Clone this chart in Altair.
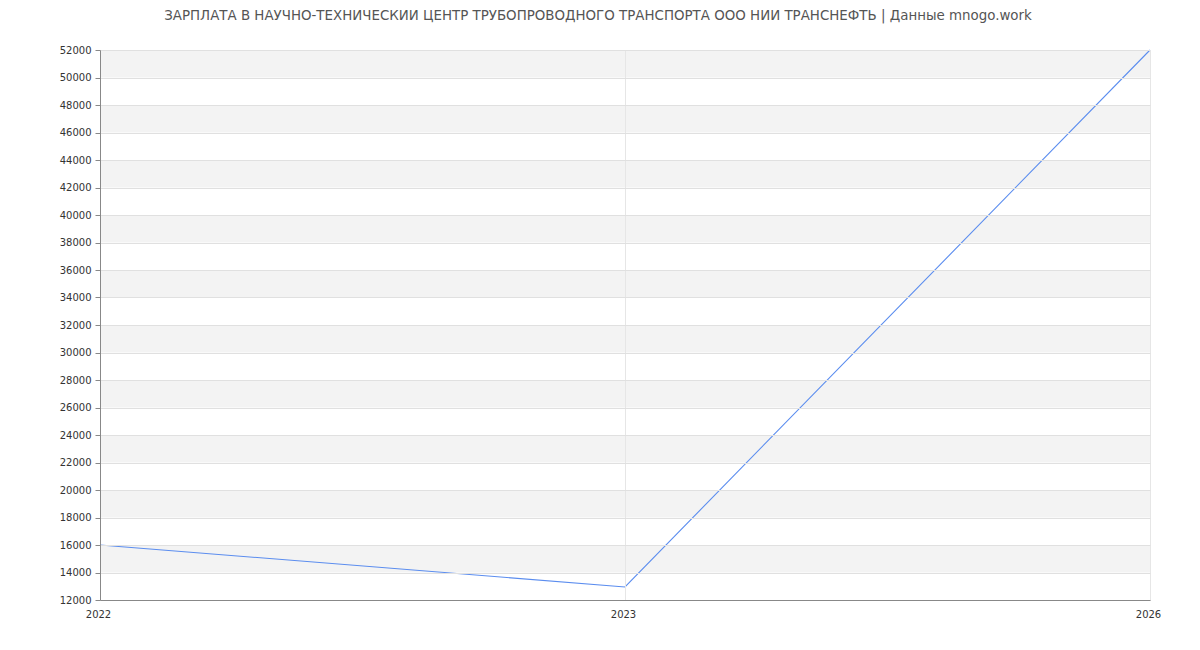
import altair as alt
import pandas as pd

years = ["2022", "2023", "2026"]
salary = [16000, 12950, 52000]
band_low = [14000, 18000, 22000, 26000, 30000, 34000, 38000, 42000, 46000, 50000]
band_high = [16000, 20000, 24000, 28000, 32000, 36000, 40000, 44000, 48000, 52000]
y_ticks = [12000, 14000, 16000, 18000, 20000, 22000, 24000, 26000, 28000, 30000, 32000,
           34000, 36000, 38000, 40000, 42000, 44000, 46000, 48000, 50000, 52000]
title_text = "ЗАРПЛАТА В НАУЧНО-ТЕХНИЧЕСКИЙ ЦЕНТР ТРУБОПРОВОДНОГО ТРАНСПОРТА ООО НИИ ТРАНСНЕФТЬ | Данные mnogo.work"

df = pd.DataFrame({"year": years, "salary": salary})
bands = pd.DataFrame({"lo": band_low, "hi": band_high})

yscale = alt.Scale(domain=[12000, 52000], nice=False, zero=False)
xscale = alt.Scale(padding=0)

yaxis = alt.Axis(title=None, values=y_ticks, grid=True, labelOverlap=False,
                 gridColor="#e0e0e0", tickColor="#888888", tickSize=5, zindex=1,
                 domainColor="#888888", labelPadding=4, labelFontSize=10,
                 labelColor="#333333", labelFont="DejaVu Sans", format="d")

band_layer = alt.Chart(bands).mark_rect(color="#f3f3f3").encode(
    x=alt.value(0), x2=alt.value(1050),
    y=alt.Y("lo:Q", scale=yscale, axis=yaxis),
    y2="hi:Q",
)

line = alt.Chart(df).mark_line(color="#5b8def", strokeWidth=1.1).encode(
    x=alt.X("year:N", scale=xscale, sort=years,
            axis=alt.Axis(title=None, labelAngle=0, grid=True, gridColor="#e6e6e6",
                          ticks=False, labelPadding=9, domainColor="#888888",
                          labelOffset=-2, zindex=1,
                          labelFontSize=10, labelColor="#333333", labelFont="DejaVu Sans")),
    y=alt.Y("salary:Q", scale=yscale, axis=yaxis),
)

chart = alt.layer(band_layer, line).properties(
    width=1050, height=550,
    title=alt.TitleParams(title_text, fontSize=13.4, fontWeight="normal", color="#555555",
                          font="DejaVu Sans", anchor="middle", dx=-27, offset=23),
    padding={"left": 92, "top": 42, "right": 42, "bottom": 40},
    autosize=alt.AutoSizeParams(type="none"),
).configure_view(stroke=None)

chart.save("out.html", embed_options={"renderer": "svg", "actions": False})
